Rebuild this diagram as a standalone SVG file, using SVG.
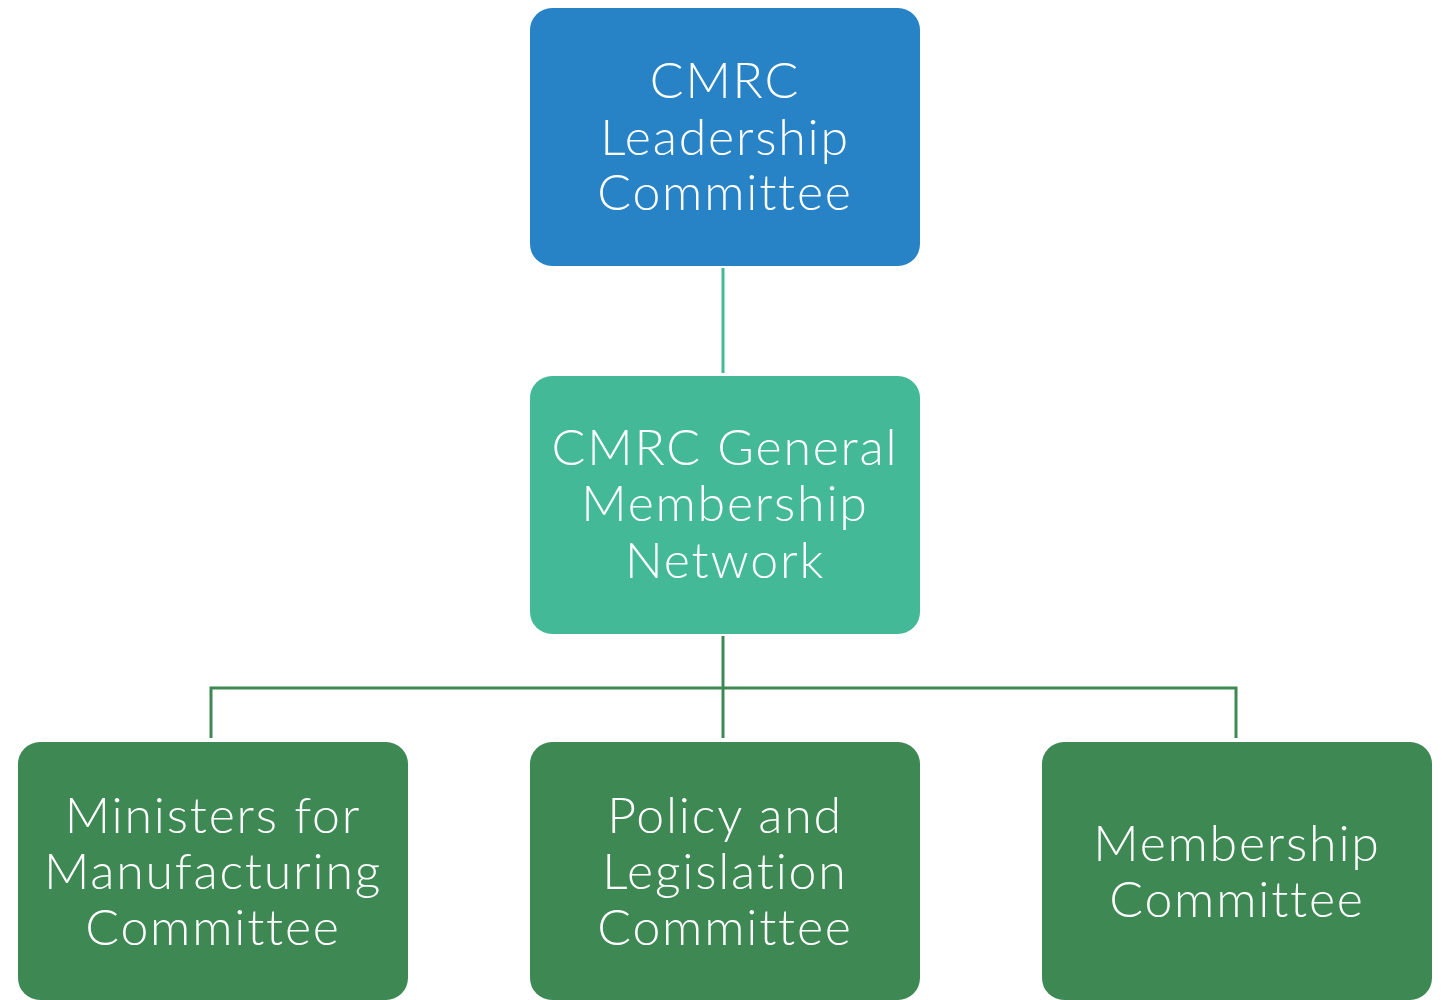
<svg xmlns="http://www.w3.org/2000/svg" width="1445" height="1000" viewBox="0 0 1445 1000">
<style>
.box{stroke:none}
.blue{fill:#2783c6}
.teal{fill:#43b997}
.green{fill:#3e8853}
.t{font-family:Lato,"Noto Sans","Liberation Sans",sans-serif;font-size:50px;font-weight:300;letter-spacing:1.8px;font-variant-ligatures:none;fill:#fff;text-anchor:middle}
.c1{stroke:#43b997;stroke-width:3;fill:none}
.c2{stroke:#3e8853;stroke-width:3;fill:none}
</style>
<rect width="1445" height="1000" fill="#fff"/>
<g id="connectors">
<line class="c1" x1="723" y1="268" x2="723" y2="373"/>
<line class="c2" x1="723" y1="636" x2="723" y2="738"/>
<polyline class="c2" points="211,738 211,688 1236,688 1236,738"/>
</g>
<g id="leadership">
<rect class="box blue" x="530" y="8" width="390" height="258" rx="22"/>
<text class="t" x="725" y="98">CMRC</text>
<text class="t" x="725" y="155">Leadership</text>
<text class="t" x="725" y="210">Committee</text>
</g>
<g id="general">
<rect class="box teal" x="530" y="376" width="390" height="258" rx="22"/>
<text class="t" x="725" y="465">CMRC General</text>
<text class="t" x="725" y="521">Membership</text>
<text class="t" x="725" y="578">Network</text>
</g>
<g id="ministers">
<rect class="box green" x="18" y="742" width="390" height="258" rx="22"/>
<text class="t" x="213" y="833">Ministers for</text>
<text class="t" x="213" y="889">Manufacturing</text>
<text class="t" x="213" y="945">Committee</text>
</g>
<g id="policy">
<rect class="box green" x="530" y="742" width="390" height="258" rx="22"/>
<text class="t" x="725" y="833">Policy and</text>
<text class="t" x="725" y="889">Legislation</text>
<text class="t" x="725" y="945">Committee</text>
</g>
<g id="membership">
<rect class="box green" x="1042" y="742" width="390" height="258" rx="22"/>
<text class="t" x="1237" y="861">Membership</text>
<text class="t" x="1237" y="917">Committee</text>
</g>
</svg>
